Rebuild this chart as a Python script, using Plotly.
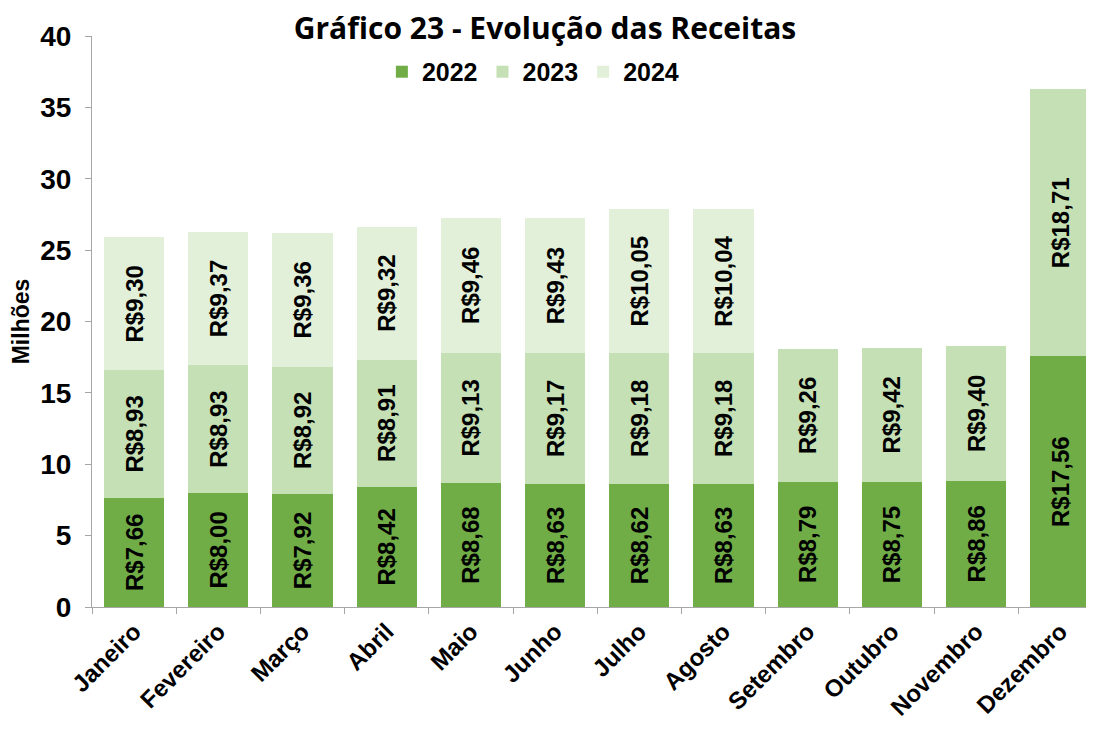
import plotly.graph_objects as go

meses = ["Janeiro", "Fevereiro", "Março", "Abril", "Maio", "Junho", "Julho",
         "Agosto", "Setembro", "Outubro", "Novembro", "Dezembro"]
v2022 = [7.66, 8.00, 7.92, 8.42, 8.68, 8.63, 8.62, 8.63, 8.79, 8.75, 8.86, 17.56]
v2023 = [8.93, 8.93, 8.92, 8.91, 9.13, 9.17, 9.18, 9.18, 9.26, 9.42, 9.40, 18.71]
v2024 = [9.30, 9.37, 9.36, 9.32, 9.46, 9.43, 10.05, 10.04, None, None, None, None]
y_ticks = [0, 5, 10, 15, 20, 25, 30, 35, 40]

series = [("2022", v2022, "#70AD47"), ("2023", v2023, "#C5E0B4"), ("2024", v2024, "#E2F0D9")]
ARIAL = "Liberation Sans, Arial"


def fmt(v):
    return "" if v is None else "R$" + f"{v:.2f}".replace(".", ",")


fig = go.Figure()
for name, vals, color in series:
    fig.add_trace(go.Bar(
        x=meses, y=vals, name=name,
        marker=dict(color=color, line=dict(width=0)),
        text=[fmt(v) for v in vals],
        textposition="inside", insidetextanchor="middle",
        textangle=-90, constraintext="none",
        textfont=dict(family=ARIAL, size=24, color="black", weight="bold"),
    ))

fig.update_layout(
    barmode="stack",
    bargap=0.287,
    width=1086, height=721,
    margin=dict(l=84, r=0, t=28, b=122, autoexpand=False),
    plot_bgcolor="white", paper_bgcolor="white",
    title=dict(text="<b>Gráfico 23 - Evolução das Receitas</b>",
               x=0.4945, xanchor="center", y=0.972, yanchor="middle",
               font=dict(family="Open Sans, Noto Sans", size=30, color="black")),
    legend=dict(orientation="h", x=0.44, xanchor="center", y=0.937, yanchor="middle",
                xref="paper", yref="paper",
                font=dict(family=ARIAL, size=25, color="black", weight="bold"),
                itemwidth=30, traceorder="normal", bgcolor="rgba(0,0,0,0)"),
    xaxis=dict(
        type="category", range=[-0.5, 11.4],
        showline=True, linecolor="#A6A6A6", linewidth=1,
        ticks="outside", tickson="boundaries", ticklen=6, tickcolor="#A6A6A6",
        tickangle=-45, showgrid=False, automargin=False,
        tickfont=dict(family=ARIAL, size=24, color="black", weight="bold"),
    ),
    yaxis=dict(
        range=[0, 40], tickvals=y_ticks, showline=True, linecolor="#A6A6A6", linewidth=1,
        ticks="outside", ticklen=6, tickcolor="#A6A6A6", showgrid=False, zeroline=False,
        automargin=False, ticklabelstandoff=8,
        tickfont=dict(family=ARIAL, size=28, color="black", weight="bold"),
        title=dict(text="Milhões", standoff=4,
                   font=dict(family=ARIAL, size=23, color="black", weight="bold")),
    ),
)

fig.write_html("out.html")
